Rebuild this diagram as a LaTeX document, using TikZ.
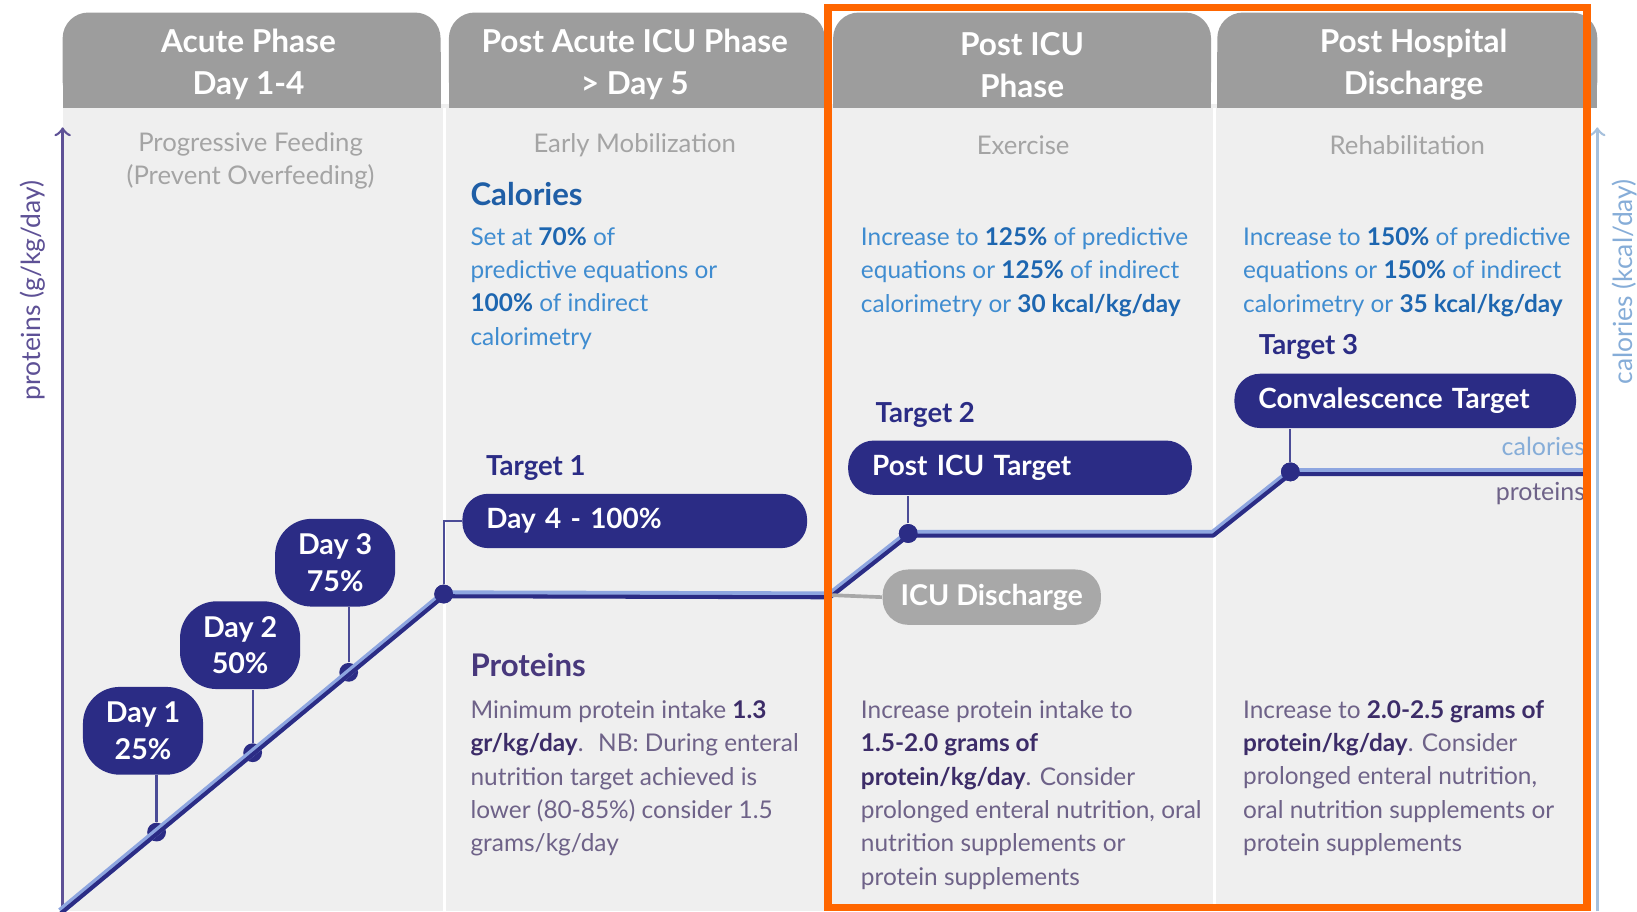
\documentclass[tikz,border=0pt]{standalone}
\usepackage{fontspec}
\setmainfont{Lato}

\definecolor{hdrgray}{HTML}{9D9D9D}
\definecolor{bodygray}{HTML}{EFEFEF}
\definecolor{subgray}{HTML}{A4A4A4}
\definecolor{navy}{HTML}{2B2C85}
\definecolor{calblue}{HTML}{3F8CD0}
\definecolor{calbold}{HTML}{1D66B0}
\definecolor{calhd}{HTML}{1F5EA6}
\definecolor{protgray}{HTML}{6E6288}
\definecolor{protbold}{HTML}{3C2C68}
\definecolor{prothd}{HTML}{48387C}
\definecolor{paxis}{HTML}{5E5196}
\definecolor{caxis}{HTML}{A6C0DC}
\definecolor{caxtext}{HTML}{86ADD8}
\definecolor{callinec}{HTML}{8EA6E0}
\definecolor{icugray}{HTML}{A8A8A8}
\definecolor{hiorange}{HTML}{FF6600}

\newcommand{\calb}[1]{\textbf{\color{calbold}#1}}
\newcommand{\protb}[1]{\textbf{\color{protbold}#1}}

\tikzset{
  hdr/.style={fill=hdrgray},
  hdrtext/.style={text=white, align=center, font=\fontsize{8.6}{11.4}\selectfont\bfseries},
  subtext/.style={text=subgray, align=center, font=\fontsize{7}{9}\selectfont},
  calhead/.style={anchor=west, inner sep=0pt, text=calhd, font=\fontsize{8.5}{10}\selectfont\bfseries},
  prothead/.style={anchor=west, inner sep=0pt, text=prothd, font=\fontsize{8.5}{10}\selectfont\bfseries},
  calbody/.style={anchor=north west, inner sep=0pt, align=left, text=calblue, font=\fontsize{6.65}{9.1}\selectfont},
  protbody/.style={anchor=north west, inner sep=0pt, align=left, text=protgray, font=\fontsize{6.65}{9.1}\selectfont},
  daybox/.style={fill=navy, text=white, align=center, rounded corners=10pt, minimum width=1.15cm, minimum height=0.84cm, inner sep=0pt, font=\fontsize{7.8}{10}\selectfont\bfseries},
  pill/.style={fill=navy, text=white, align=left, rounded corners=7pt, minimum height=0.52cm, inner xsep=0.23cm, inner ysep=0pt, font=\fontsize{7.6}{10}\selectfont\bfseries},
  icupill/.style={fill=icugray, text=white, rounded corners=7pt, minimum width=2.09cm, minimum height=0.53cm, inner sep=0pt, font=\fontsize{7.8}{10}\selectfont\bfseries},
  tlabel/.style={anchor=west, inner sep=0pt, text=navy, font=\fontsize{7.5}{9}\selectfont\bfseries},
  dot/.style={circle, fill=navy, minimum size=0.18cm, inner sep=0pt},
  stem/.style={navy!85, line width=0.6pt},
  axislabel/.style={rotate=90, inner sep=0pt, font=\fontsize{7.2}{9}\selectfont},
  linelabel/.style={anchor=east, inner sep=0pt, font=\fontsize{6.8}{8}\selectfont}
}

\begin{document}
\begin{tikzpicture}[x=0.01cm, y=-0.01cm]

	\useasboundingbox [fill=white] (0,0) rectangle (1568,873);

	%body of the four columns
	\fill [bodygray] (60,100) rectangle (1520,873);
	\foreach \sep in {426, 794, 1163}
	{
		\draw [white, line width=0.9pt] (\sep,103) -- (\sep,873);
	}

	%headers, rounded on top only
	\foreach \xa/\xb in {60/422, 430/790, 798/1160, 1166/1530}
	{
		\fill [hdr, rounded corners=7pt] (\xa,12) rectangle (\xb,103);
		\fill [hdr] (\xa,50) rectangle (\xb,103);
	}

	\foreach \i/\xc/\first/\second in {1/238/Acute Phase/Day 1-4, 2/608/Post Acute ICU Phase/> Day 5, 3/979/Post ICU/Phase, 4/1354/Post Hospital/Discharge}
	{
		\node [hdrtext] (h\i) at (\xc,62) {\first\\\second};
	}

	%what each phase is about
	\node [subtext] (sub1) at (240,154) {Progressive Feeding\\(Prevent Overfeeding)};
	\node [subtext] (sub2) at (608,139) {Early Mobilization};
	\node [subtext] (sub3) at (980,139) {Exercise};
	\node [subtext] (sub4) at (1348,139) {Rehabilitation};

	%axes
	\coordinate (paxbot) at (60,873);
	\coordinate (paxtop) at (60,122);
	\coordinate (caxbot) at (1530,873);
	\coordinate (caxtop) at (1530,122);
	\draw [paxis, line width=0.7pt, ->] (paxbot) -- (paxtop);
	\draw [caxis, line width=0.7pt, ->] (caxbot) -- (caxtop);
	\node [axislabel, text=paxis] (plabel) at (31,278) {proteins (g/kg/day)};
	\node [axislabel, text=caxtext] (clabel) at (1556,270) {calories (kcal/day)};

	%calories
	\node [calhead] (calhead) at (450,186) {Calories};
	\node [calbody] (cal2) at (450,217) {Set at \calb{70\%} of\\predictive equations or\\\calb{100\%} of indirect\\calorimetry};
	\node [calbody] (cal3) at (824,217) {Increase to \calb{125\%} of predictive\\equations or \calb{125\%} of indirect\\calorimetry or \calb{30 kcal/kg/day}};
	\node [calbody] (cal4) at (1190,217) {Increase to \calb{150\%} of predictive\\equations or \calb{150\%} of indirect\\calorimetry or \calb{35 kcal/kg/day}};

	%proteins
	\node [prothead] (prothead) at (450,637) {Proteins};
	\node [protbody] (prot2) at (450,670) {Minimum protein intake \protb{1.3}\\\protb{gr/kg/day}.~ NB: During enteral\\nutrition target achieved is\\lower (80-85\%) consider 1.5\\grams/kg/day};
	\node [protbody] (prot3) at (824,670) {Increase protein intake to\\\protb{1.5-2.0 grams of}\\\protb{protein/kg/day}. Consider\\prolonged enteral nutrition, oral\\nutrition supplements or\\protein supplements};
	\node [protbody] (prot4) at (1190,670) {Increase to \protb{2.0-2.5 grams of}\\\protb{protein/kg/day}. Consider\\prolonged enteral nutrition,\\oral nutrition supplements or\\protein supplements};

	%the intake line
	\node [dot] (dd1) at (150,797) {};
	\node [dot] (dd2) at (242,721) {};
	\node [dot] (dd3) at (334,644) {};
	\node [dot] (tt1) at (425,569) {};
	\node [dot] (tt2) at (870,511) {};
	\node [dot] (tt3) at (1236,452) {};
	\coordinate (lstart) at (58,873);
	\coordinate (bend1) at (795,570);
	\coordinate (bend2) at (1162,511);
	\coordinate (lend) at (1520,452);

	\draw [callinec, line width=2pt, line join=round] (lstart) -- (tt1.center) -- (bend1) -- (tt2.center) -- (bend2) -- (tt3.center) -- (lend);
	\draw [navy, line width=1.1pt, line join=round, transform canvas={yshift=-0.6pt}] (lstart) -- (tt1.center) -- (bend1) -- (tt2.center) -- (bend2) -- (tt3.center) -- (lend);

	\node [linelabel, text=caxtext] (callab) at (1519,428) {calories};
	\node [linelabel, text=protgray] (protlab) at (1519,473) {proteins};

	%daily steps
	\node [daybox] (day1) at (137,700) {Day 1\\25\%};
	\node [daybox] (day2) at (230,618) {Day 2\\50\%};
	\node [daybox] (day3) at (321,539) {Day 3\\75\%};
	\draw [stem] (dd1) -- (dd1 |- day1.south);
	\draw [stem] (dd2) -- (dd2 |- day2.south);
	\draw [stem] (dd3) -- (dd3 |- day3.south);

	%targets
	\node [pill, text width=2.84cm] (pill1) at (608,499) {Day 4 - 100\%};
	\node [pill, text width=2.83cm] (pill2) at (977,448) {Post ICU Target};
	\node [pill, text width=2.81cm] (pill3) at (1346,384) {Convalescence Target};
	\node [tlabel] (tlab1) at (465,448) {Target 1};
	\node [tlabel] (tlab2) at (838,397) {Target 2};
	\node [tlabel] (tlab3) at (1205,332) {Target 3};
	\draw [stem] (tt1) |- (pill1.west);
	\draw [stem] (tt2) -- (tt2 |- pill2.south);
	\draw [stem] (tt3) -- (tt3 |- pill3.south);

	%leaving the icu
	\node [icupill] (icu) at (950,572) {ICU Discharge};
	\draw [icugray, line width=1pt] (bend1) -- (icu.west);
	\node [dot] at (tt1) {};
	\node [dot] at (tt2) {};
	\node [dot] at (tt3) {};

	%highlight
	\draw [hiorange, line width=2pt] (793,7) rectangle (1520,869);

\end{tikzpicture}
\end{document}
